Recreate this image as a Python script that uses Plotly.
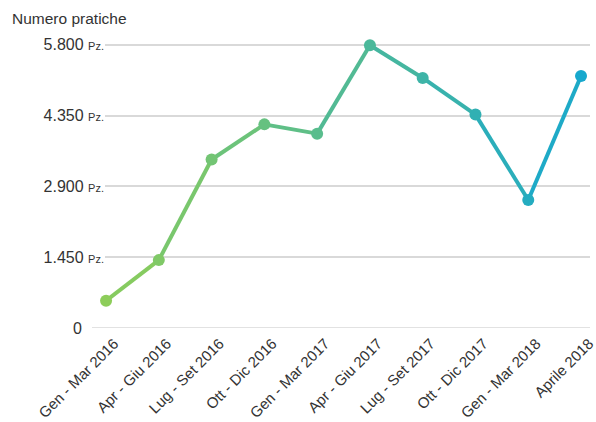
import plotly.graph_objects as go

categories = ["Gen - Mar 2016", "Apr - Giu 2016", "Lug - Set 2016", "Ott - Dic 2016",
              "Gen - Mar 2017", "Apr - Giu 2017", "Lug - Set 2017", "Ott - Dic 2017",
              "Gen - Mar 2018", "Aprile 2018"]
values = [560, 1390, 3450, 4170, 3980, 5790, 5120, 4370, 2620, 5160]
y_ticks = [0, 1450, 2900, 4350, 5800]
y_tick_labels = ["0", "1.450", "2.900", "4.350", "5.800"]
y_title = "Numero pratiche"

c_start = (141, 205, 90)
c_end = (23, 168, 205)


def mix(t):
    r, g, b = (round(a + (b_ - a) * t) for a, b_ in zip(c_start, c_end))
    return f"rgb({r},{g},{b})"


n = len(values)
xs = list(range(n))
fig = go.Figure()
for i in range(n - 1):
    fig.add_trace(go.Scatter(
        x=xs[i:i + 2], y=values[i:i + 2], mode="lines",
        line=dict(color=mix((i + 0.5) / (n - 1)), width=4),
        hoverinfo="skip", showlegend=False, cliponaxis=False))
fig.add_trace(go.Scatter(
    x=xs, y=values, mode="markers",
    marker=dict(color=[mix(i / (n - 1)) for i in range(n)], size=12),
    showlegend=False, cliponaxis=False))

ticktext = []
for lab in y_tick_labels:
    if lab == "0":
        ticktext.append("0" + "\u00a0" * 5)
    else:
        ticktext.append(lab + " <span style='font-size:11px'>Pz.</span>")

plot_w = 596 - 105 - 6

fig.update_layout(
    width=596, height=422,
    margin=dict(l=105, r=6, t=35, b=94, autoexpand=False),
    paper_bgcolor="white", plot_bgcolor="white",
    font=dict(family="Liberation Sans, Arial, sans-serif", color="#333333"),
    xaxis=dict(
        range=[-0.02, 9.17], tickmode="array", tickvals=xs, ticktext=categories,
        tickangle=-45, showgrid=False, zeroline=False, showline=False,
        tickfont=dict(size=15, color="#333333"), ticks="",
        ticklabelshift=8, ticklabelstandoff=3, automargin=False,
        ticklabeloverflow="allow",
    ),
    yaxis=dict(
        range=[0, 6000], tickmode="array", tickvals=y_ticks, ticktext=ticktext,
        showgrid=True, gridcolor="#d9d9d9", gridwidth=1.5, zeroline=False,
        showline=False, ticks="", ticklabelstandoff=0, automargin=False,
        tickfont=dict(size=16, color="#333333"), ticklabeloverflow="allow",
    ),
    shapes=[dict(
        type="line", xref="paper", yref="y", x0=-13 / plot_w, x1=1, y0=0, y1=0,
        line=dict(color="#d9d9d9", width=1.5), layer="below",
    )],
    annotations=[dict(
        text=y_title, xref="paper", yref="paper", x=-105 / plot_w, y=1,
        xanchor="left", yanchor="bottom", xshift=10, yshift=6, showarrow=False,
        font=dict(size=15.5, color="#333333"),
    )],
)

fig.write_html("out.html", config={"displayModeBar": False},
               post_script="document.body.style.margin='0';")
